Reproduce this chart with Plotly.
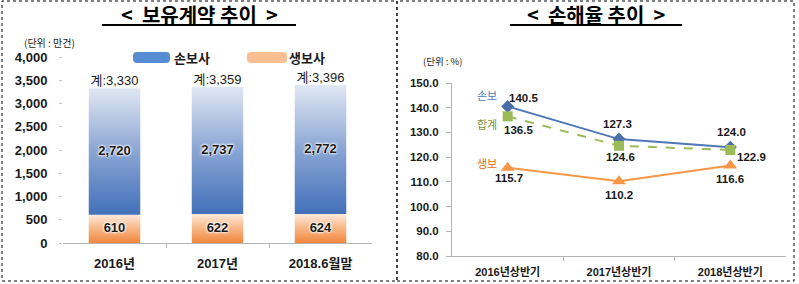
import plotly.graph_objects as go

# ---------------- data ----------------
contract_cats = ["2016년", "2017년", "2018.6월말"]
nonlife_contracts = [2720, 2737, 2772]   # 손보사
life_contracts = [610, 622, 624]         # 생보사
total_contracts = [3330, 3359, 3396]     # 계

loss_cats = ["2016년상반기", "2017년상반기", "2018년상반기"]
loss_nonlife = [140.5, 127.3, 124.0]     # 손보
loss_total = [136.5, 124.6, 122.9]       # 합계
loss_life = [115.7, 110.2, 116.6]        # 생보

y1_ticks = [0, 500, 1000, 1500, 2000, 2500, 3000, 3500, 4000]
y2_ticks = [80, 90, 100, 110, 120, 130, 140, 150]

# ---------------- helpers ----------------
W, H = 799, 284
def fx(p):
    return p / W
def fy(p):
    return 1 - p / H

FONT = "Liberation Sans, Arial, Noto Sans CJK KR, sans-serif"
KFONT = "Noto Sans CJK KR, Liberation Sans, sans-serif"
TXT = "#1a1a1a"
HALF = 0.25

fig = go.Figure()

# ---------------- left: stacked gradient bars ----------------
blue_scale = [[0, "rgb(66,112,186)"], [0.5, "rgb(138,165,211)"], [1, "rgb(224,231,243)"]]
orange_scale = [[0, "rgb(240,134,62)"], [0.55, "rgb(248,186,140)"], [1, "rgb(253,234,220)"]]

for i, (lv, nv) in enumerate(zip(life_contracts, nonlife_contracts)):
    segs = [(0, lv, orange_scale), (lv, lv + nv, blue_scale)]
    for base, top, cs in segs:
        fig.add_trace(go.Scatter(
            x=[i - HALF, i + HALF, i + HALF, i - HALF, i - HALF],
            y=[base, base, top, top, base],
            mode="lines", fill="toself", line=dict(width=0),
            fillgradient=dict(type="vertical", colorscale=cs, start=base, stop=top),
            hoverinfo="skip", showlegend=False, xaxis="x", yaxis="y"))

shadow = "0px 0px 3px #ffffff, 0px 0px 3px #ffffff, 0px 0px 2px #ffffff"
xs = list(range(len(contract_cats)))
fig.add_trace(go.Scatter(
    x=xs, y=[v / 2 for v in life_contracts], mode="text",
    text=[f"{v:,}" for v in life_contracts],
    textfont=dict(family=FONT, size=13, color=TXT, weight="bold", shadow=shadow),
    hoverinfo="skip", showlegend=False, xaxis="x", yaxis="y"))
fig.add_trace(go.Scatter(
    x=xs, y=[l + n / 2 for l, n in zip(life_contracts, nonlife_contracts)], mode="text",
    text=[f"{v:,}" for v in nonlife_contracts],
    textfont=dict(family=FONT, size=13, color=TXT, weight="bold", shadow=shadow),
    hoverinfo="skip", showlegend=False, xaxis="x", yaxis="y"))
fig.add_trace(go.Scatter(
    x=xs, y=total_contracts, mode="text", textposition="top center",
    text=[f"계:{v:,}" for v in total_contracts],
    textfont=dict(family=FONT, size=13, color=TXT),
    hoverinfo="skip", showlegend=False, xaxis="x", yaxis="y"))

# ---------------- right: loss ratio lines ----------------
xs2 = list(range(len(loss_cats)))
fig.add_trace(go.Scatter(
    x=xs2, y=loss_life, mode="lines+markers",
    line=dict(color="#f79646", width=2),
    marker=dict(symbol="triangle-up", size=12, color="#f79646"),
    hoverinfo="skip", showlegend=False, xaxis="x2", yaxis="y2"))
fig.add_trace(go.Scatter(
    x=xs2, y=loss_nonlife, mode="lines+markers",
    line=dict(color="#4f78b8", width=2),
    marker=dict(symbol="diamond", size=10, color="#4a6fa8"),
    hoverinfo="skip", showlegend=False, xaxis="x2", yaxis="y2"))
fig.add_trace(go.Scatter(
    x=xs2, y=loss_total, mode="lines+markers",
    line=dict(color="#9bbb59", width=2, dash="dash"),
    marker=dict(symbol="square", size=10, color="#9bbb59"),
    hoverinfo="skip", showlegend=False, xaxis="x2", yaxis="y2"))

annotations = []
label_font = dict(family=FONT, size=11.5, color=TXT, weight="bold")
offsets = {
    "nonlife": [(16, 8), (-2, 15), (1, 15)],
    "total": [(11, -14), (1, -11), (21, -7)],
    "life": [(1, -10), (0, -14), (0, -13)],
}
for key, vals in (("nonlife", loss_nonlife), ("total", loss_total), ("life", loss_life)):
    for i, v in enumerate(vals):
        dx, dy = offsets[key][i]
        annotations.append(dict(
            x=i, y=v, xref="x2", yref="y2", text=f"{v:.1f}", showarrow=False,
            xanchor="center", yanchor="middle",
            xshift=dx, yshift=dy, font=label_font))

def pann(txt, px, py, font, xanchor="center"):
    annotations.append(dict(x=fx(px), y=fy(py), xref="paper", yref="paper", text=txt,
                            showarrow=False, xanchor=xanchor, yanchor="middle", font=font))

# series name labels
for txt, col, py in (("손보", "#4f78b8", 95), ("합계", "#76923c", 124), ("생보", "#e46c0a", 163)):
    pann(txt, 487, py, dict(family=KFONT, size=11, color=col))

# titles
for txt, cx in (("<  보유계약 추이  >", 199), ("<  손해율 추이  >", 596)):
    pann(txt, cx, 14, dict(family=KFONT, size=20, color="#000000", weight="bold"))
# units
pann("(단위 : 만건)", 22, 42, dict(family=KFONT, size=10, color=TXT), "left")
pann("(단위 : %)", 421, 61, dict(family=KFONT, size=9.5, color=TXT), "left")
# legend texts
pann("손보사", 172, 57, dict(family=KFONT, size=13, color=TXT, weight="bold"), "left")
pann("생보사", 287, 57, dict(family=KFONT, size=13, color=TXT, weight="bold"), "left")

def rrect(x0, y0, x1, y1, r):
    X0, X1 = fx(x0), fx(x1)
    Y0, Y1 = fy(y1), fy(y0)
    rx, ry = r / W, r / H
    return (f"M {X0+rx},{Y0} L {X1-rx},{Y0} Q {X1},{Y0} {X1},{Y0+ry} L {X1},{Y1-ry} "
            f"Q {X1},{Y1} {X1-rx},{Y1} L {X0+rx},{Y1} Q {X0},{Y1} {X0},{Y1-ry} "
            f"L {X0},{Y0+ry} Q {X0},{Y0} {X0+rx},{Y0} Z")

shapes = [
    dict(type="rect", xref="paper", yref="paper", x0=fx(2), x1=fx(397), y0=fy(281), y1=fy(1),
         line=dict(color="#000000", width=1, dash="dot")),
    dict(type="rect", xref="paper", yref="paper", x0=fx(397), x1=fx(794), y0=fy(281), y1=fy(1),
         line=dict(color="#000000", width=1, dash="dot")),
    dict(type="line", xref="paper", yref="paper", x0=fx(102), x1=fx(296), y0=fy(25), y1=fy(25),
         line=dict(color="#000000", width=2)),
    dict(type="line", xref="paper", yref="paper", x0=fx(510), x1=fx(682), y0=fy(25), y1=fy(25),
         line=dict(color="#000000", width=2)),
    dict(type="path", xref="paper", yref="paper", path=rrect(133, 52, 170, 63, 4),
         fillcolor="rgb(86,140,210)", line=dict(width=0)),
    dict(type="path", xref="paper", yref="paper", path=rrect(247, 52, 287, 63, 4),
         fillcolor="rgb(250,190,145)", line=dict(width=0)),
]

fig.update_layout(
    template="none",
    width=W, height=H, margin=dict(l=0, r=0, t=0, b=0, pad=0, autoexpand=False),
    paper_bgcolor="#ffffff", plot_bgcolor="rgba(0,0,0,0)",
    showlegend=False, annotations=annotations, shapes=shapes,
    xaxis=dict(domain=[fx(63), fx(372)], range=[-0.5, 2.5], anchor="y", automargin=False,
               tickmode="array", tickvals=xs, ticktext=contract_cats,
               ticks="", showgrid=False, zeroline=False,
               showline=True, linecolor="#b4b4b4", linewidth=1,
               minor=dict(tickmode="array", tickvals=[0.5, 1.5], ticks="outside",
                          ticklen=4, tickcolor="#b4b4b4", showgrid=False),
               tickfont=dict(family=FONT, size=13, color=TXT, weight="bold"),
               ticklabelstandoff=8, fixedrange=True),
    yaxis=dict(domain=[fy(243), fy(57)], range=[0, 4000], anchor="x", automargin=False,
               tickmode="array", tickvals=y1_ticks, tickformat=",",
               ticks="outside", ticklen=3, tickcolor="#c8c8c8",
               showgrid=False, zeroline=False, showline=False,
               tickfont=dict(family=FONT, size=13, color=TXT, weight="bold"),
               ticklabelstandoff=9, fixedrange=True),
    xaxis2=dict(domain=[fx(452), fx(786)], range=[-0.5, 2.5], anchor="y2", automargin=False,
                tickmode="array", tickvals=xs2, ticktext=loss_cats,
                ticks="", showgrid=False, zeroline=False,
                showline=True, linecolor="#b4b4b4", linewidth=1,
                minor=dict(tickmode="array", tickvals=[0.5, 1.5], ticks="outside",
                           ticklen=4, tickcolor="#b4b4b4", showgrid=False),
                tickfont=dict(family=FONT, size=11, color=TXT, weight="bold"),
                ticklabelstandoff=6, fixedrange=True),
    yaxis2=dict(domain=[fy(256), fy(83)], range=[80, 150], anchor="x2", automargin=False,
                tickmode="array", tickvals=y2_ticks, tickformat=".1f",
                ticks="outside", ticklen=5, tickcolor="#b4b4b4",
                showgrid=False, zeroline=False,
                showline=True, linecolor="#b4b4b4", linewidth=1,
                tickfont=dict(family=FONT, size=11.5, color=TXT, weight="bold"),
                ticklabelstandoff=5, fixedrange=True),
)

fig.write_html("out.html")
